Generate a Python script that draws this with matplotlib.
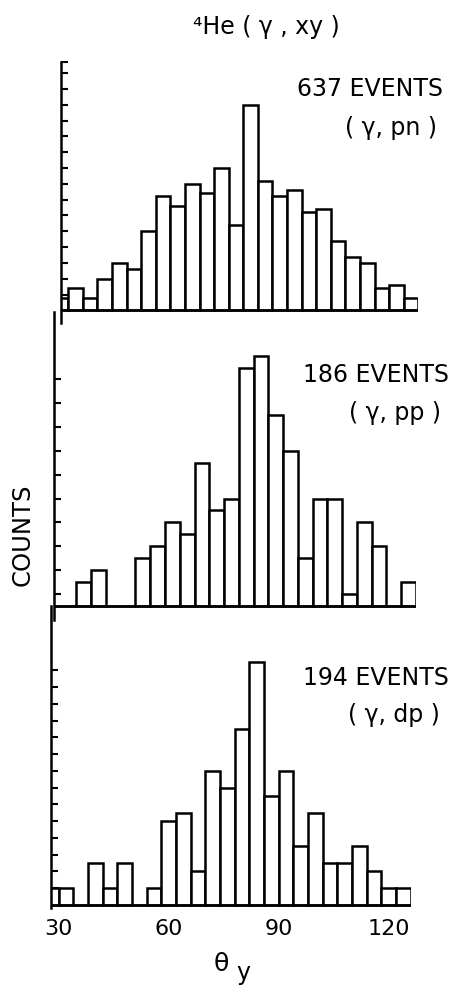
import matplotlib
matplotlib.use("Agg")
import matplotlib.pyplot as plt

plt.rcParams['font.family'] = ['DejaVu Sans']

# Angular bins (degrees), 4-degree wide, left edges
bin_edges_left = [26, 30, 34, 38, 42, 46, 50, 54, 58, 62, 66, 70, 74, 78,
                  82, 86, 90, 94, 98, 102, 106, 110, 114, 118, 122]
bin_width = 4

# Counts per bin for each reaction channel
counts_pn = [4, 7, 4, 10, 15, 13, 25, 36, 33, 40, 37, 45, 27, 65,
             41, 36, 38, 31, 32, 22, 17, 15, 7, 8, 4]
counts_pp = [0, 0, 2, 3, 0, 0, 4, 5, 7, 6, 12, 8, 9, 20,
             21, 16, 13, 4, 9, 9, 1, 7, 5, 0, 2]
counts_dp = [2, 2, 0, 5, 2, 5, 0, 2, 10, 11, 4, 16, 14, 21,
             29, 13, 16, 7, 11, 5, 5, 7, 4, 2, 2]

event_labels = ["637 EVENTS", "186 EVENTS", "194 EVENTS"]
channel_labels = ["( \u03b3, pn )", "( \u03b3, pp )", "( \u03b3, dp )"]

yticks_pn = [5, 10, 15, 20, 25, 30, 35, 40, 45, 50, 55, 60, 65, 70, 75, 78.5]
yticks_pp = [1, 3, 5, 7, 9, 11, 13, 15, 17, 19]
yticks_dp = [2, 4, 6, 8, 10, 12, 14, 16, 18, 20, 22, 24, 26, 28]

xtick_values = [30, 60, 90, 120]
xlim = (28, 126)

W, H = 459, 985
fig = plt.figure(figsize=(W / 100, H / 100), dpi=100)

# panel boxes in pixels: left, right, top, bottom ; y-limits
panels = [
    dict(box=(61.0, 418.3, 62.0, 323.0), ylim=(-4.0, 78.5),
         counts=counts_pn, yticks=yticks_pn, ev=event_labels[0], ch=channel_labels[0],
         ev_xy=(370, 89), ch_xy=(391, 128)),
    dict(box=(54.3, 416.0, 312.0, 620.0), ylim=(-1.2, 24.66),
         counts=counts_pp, yticks=yticks_pp, ev=event_labels[1], ch=channel_labels[1],
         ev_xy=(376, 375), ch_xy=(395, 413)),
    dict(box=(51.4, 410.7, 606.0, 907.5), ylim=(-0.3, 35.7),
         counts=counts_dp, yticks=yticks_dp, ev=event_labels[2], ch=channel_labels[2],
         ev_xy=(376, 678), ch_xy=(394, 715)),
]

def fx(px):
    return px / W

def fy(py):
    return 1 - py / H

lw = 1.8
text_size = 17
axes = []
for p in panels:
    l, r, t, b = p['box']
    ax = fig.add_axes([fx(l), fy(b), (r - l) / W, (b - t) / H])
    ax.patch.set_alpha(0)
    ax.bar(bin_edges_left, p['counts'], width=bin_width, align='edge',
           facecolor='white', edgecolor='black', linewidth=lw, zorder=2)
    ax.plot(xlim, [0, 0], color='black', linewidth=lw, zorder=3,
            solid_capstyle='butt')
    ax.set_xlim(*xlim)
    ax.set_ylim(*p['ylim'])
    for s in ['top', 'right', 'bottom']:
        ax.spines[s].set_visible(False)
    ax.spines['left'].set_linewidth(lw)
    ax.set_yticks(p['yticks'])
    ax.set_yticklabels([])
    ax.tick_params(axis='y', direction='in', length=5, width=1.5)
    ax.set_xticks([])
    fig.text(fx(p['ev_xy'][0]), fy(p['ev_xy'][1]), p['ev'], ha='center',
             va='center', fontsize=text_size)
    fig.text(fx(p['ch_xy'][0]), fy(p['ch_xy'][1]), p['ch'], ha='center',
             va='center', fontsize=text_size)
    axes.append(ax)

# x tick labels on the lowest panel only
axb = axes[-1]
axb.set_xticks(xtick_values)
axb.set_xticklabels([str(v) for v in xtick_values], fontsize=16)
axb.tick_params(axis='x', length=0, pad=8)

# axis titles
fig.text(fx(23), fy(535), "COUNTS", rotation=90, ha='center', va='center',
         fontsize=17.5)
fig.text(fx(221), fy(964), "\u03b8", ha='center', va='center', fontsize=18)
fig.text(fx(243), fy(973), "y", ha='center', va='center', fontsize=17)

fig.text(fx(266), fy(27), "\u2074He ( \u03b3 , xy )", ha='center', va='center',
         fontsize=text_size)

fig.savefig("out.png", dpi=100, facecolor='white')
